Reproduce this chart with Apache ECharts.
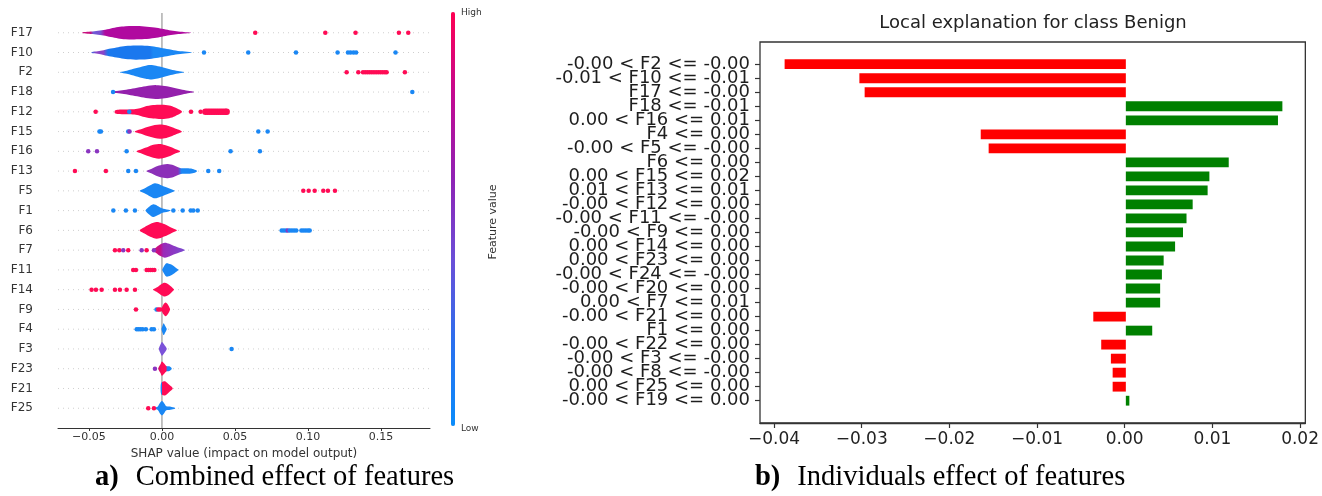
<!DOCTYPE html>
<html><head><meta charset="utf-8">
<script src="https://cdn.jsdelivr.net/npm/echarts@6/dist/echarts.min.js"></script>
<style>html,body{margin:0;padding:0;background:#fff}#c{width:1322px;height:496px}</style>
</head><body><div id="c"></div>
<script>
// ---------- Left: SHAP violin summary ----------
const shapFeatures = ['F17','F10','F2','F18','F12','F15','F16','F13','F5','F1','F6','F7','F11','F14','F9','F4','F3','F23','F21','F25'];
const shapTicks = [-0.05, 0, 0.05, 0.10, 0.15];
const RED = '#ff0b55', BLUE = '#1a87f4', PURPLE = '#8a35c0';
// violin profiles: [shap value, half width in row units]
const violinProfiles = [
  [[-0.0544,0.02],[-0.050,0.05],[-0.045,0.09],[-0.040,0.14],[-0.035,0.22],[-0.030,0.29],[-0.025,0.33],[-0.019,0.34],[-0.012,0.32],[-0.005,0.26],[0.0,0.2],[0.005,0.13],[0.010,0.08],[0.015,0.04],[0.0197,0.01]],
  [[-0.0482,0.02],[-0.044,0.06],[-0.040,0.12],[-0.035,0.2],[-0.030,0.27],[-0.025,0.33],[-0.018,0.36],[-0.010,0.34],[-0.004,0.28],[0.002,0.2],[0.008,0.12],[0.014,0.06],[0.0203,0.01]],
  [[-0.0288,0.01],[-0.024,0.08],[-0.018,0.2],[-0.012,0.32],[-0.008,0.37],[-0.004,0.33],[0.001,0.24],[0.006,0.14],[0.011,0.06],[0.0151,0.01]],
  [[-0.0345,0.03],[-0.031,0.05],[-0.026,0.1],[-0.020,0.18],[-0.014,0.26],[-0.008,0.33],[-0.004,0.35],[0.002,0.31],[0.008,0.22],[0.014,0.12],[0.019,0.05],[0.0219,0.01]],
  [[-0.0322,0.07],[-0.030,0.11],[-0.025,0.12],[-0.020,0.13],[-0.016,0.17],[-0.012,0.26],[-0.006,0.34],[0.0,0.36],[0.005,0.32],[0.009,0.22],[0.0135,0.04]],
  [[-0.0185,0.02],[-0.015,0.1],[-0.010,0.23],[-0.005,0.33],[-0.0014,0.36],[0.003,0.32],[0.007,0.22],[0.011,0.1],[0.0135,0.02]],
  [[-0.0173,0.02],[-0.014,0.11],[-0.009,0.25],[-0.005,0.34],[-0.002,0.37],[0.002,0.32],[0.006,0.22],[0.010,0.09],[0.0123,0.02]],
  [[-0.0105,0.02],[-0.007,0.12],[-0.003,0.26],[0.001,0.34],[0.004,0.36],[0.008,0.3],[0.011,0.2],[0.013,0.15],[0.017,0.14],[0.021,0.11],[0.0238,0.03]],
  [[-0.0151,0.02],[-0.012,0.12],[-0.008,0.28],[-0.0048,0.38],[-0.001,0.3],[0.003,0.18],[0.0065,0.08],[0.0089,0.01]],
  [[-0.0112,0.02],[-0.009,0.18],[-0.006,0.32],[-0.003,0.24],[0.0,0.12],[0.002,0.08],[0.0045,0.04],[0.006,0.01]],
  [[-0.0151,0.03],[-0.012,0.16],[-0.008,0.32],[-0.0037,0.42],[0.0,0.36],[0.004,0.24],[0.007,0.12],[0.0101,0.02]],
  [[-0.006,0.03],[-0.004,0.14],[-0.001,0.3],[0.002,0.38],[0.005,0.32],[0.008,0.22],[0.011,0.14],[0.0135,0.08],[0.0158,0.01]],
  [[0.0002,0.02],[0.0015,0.2],[0.003,0.34],[0.006,0.28],[0.009,0.14],[0.0112,0.02]],
  [[-0.006,0.02],[-0.003,0.14],[0.0,0.3],[0.002,0.35],[0.005,0.24],[0.0082,0.02]],
  [[-0.0003,0.04],[0.001,0.25],[0.0025,0.35],[0.004,0.25],[0.0055,0.03]],
  [[-0.0003,0.03],[0.0005,0.2],[0.0012,0.3],[0.002,0.2],[0.0032,0.03]],
  [[-0.0021,0.03],[-0.001,0.22],[0.0,0.35],[0.0015,0.22],[0.0032,0.03]],
  [[-0.0025,0.03],[-0.001,0.22],[0.0,0.36],[0.0015,0.26],[0.003,0.14],[0.005,0.12],[0.0066,0.03]],
  [[-0.0009,0.15],[-0.0005,0.3],[0.0,0.32],[0.002,0.36],[0.004,0.25],[0.006,0.12],[0.0073,0.03]],
  [[-0.005,0.03],[-0.003,0.08],[-0.0015,0.25],[0.0,0.36],[0.0015,0.25],[0.003,0.1],[0.006,0.08],[0.0089,0.03]]
];
// colour stops along each violin: [shap value, colour]
const violinColors = [
  [[-0.0544,'#c8107f'],[-0.049,'#c8107f'],[-0.047,'#6f5ad6'],[-0.042,'#7a4fd0'],[-0.039,'#b0099f'],[0.0197,'#b0099f']],
  [[-0.0482,'#4068e0'],[-0.045,'#8a45c8'],[-0.040,'#8a45c8'],[-0.037,'#1a78ee'],[-0.008,'#1a78ee'],[-0.006,BLUE],[0.0203,BLUE]],
  [[0,BLUE]],
  [[-0.0345,'#5a5ae0'],[-0.032,'#9420ac'],[0.0219,'#9420ac']],
  [[0,RED]],
  [[0,RED]],
  [[0,RED]],
  [[-0.0105,'#8c30b8'],[0.011,'#8c30b8'],[0.0135,BLUE],[0.0238,BLUE]],
  [[0,BLUE]],
  [[0,BLUE]],
  [[0,RED]],
  [[-0.006,'#d6106e'],[-0.001,'#c0108c'],[0.001,'#9a2ab8'],[0.0158,'#7a4ad0']],
  [[0,BLUE]],
  [[0,RED]],
  [[0,RED]],
  [[0,BLUE]],
  [[0,'#7b52d9']],
  [[-0.0025,'#d0106e'],[0.0,RED],[0.0028,RED],[0.0036,BLUE],[0.0066,BLUE]],
  [[-0.0009,BLUE],[-0.0003,BLUE],[0.0,RED],[0.0073,RED]],
  [[0,BLUE]]
];
// outlier dots: [shap value, row index, colour key]
const shapDots = [
  [0.0639,0,'r'],[0.1119,0,'r'],[0.1326,0,'r'],[0.1623,0,'r'],[0.1687,0,'r'],
  [0.0288,1,'b'],[0.0591,1,'b'],[0.0918,1,'b'],[0.1203,1,'b'],[0.1274,1,'b'],[0.1292,1,'b'],[0.1312,1,'b'],[0.1330,1,'b'],[0.160,1,'b'],
  [0.1265,2,'r'],[0.1345,2,'r'],[0.1377,2,'r'],[0.1392,2,'r'],[0.1407,2,'r'],[0.1422,2,'r'],[0.1437,2,'r'],[0.1452,2,'r'],[0.1467,2,'r'],[0.1482,2,'r'],[0.1497,2,'r'],[0.1512,2,'r'],[0.1527,2,'r'],[0.1539,2,'r'],[0.1664,2,'r'],
  [-0.0335,3,'b'],[0.1715,3,'b'],
  [-0.0454,4,'r'],[-0.0224,4,'b'],[0.0199,4,'r'],[0.0265,4,'r'],[0.0298,4,'R'],[0.0313,4,'R'],[0.0328,4,'R'],[0.0343,4,'R'],[0.0358,4,'R'],[0.0373,4,'R'],[0.0388,4,'R'],[0.0403,4,'R'],[0.0418,4,'R'],[0.0433,4,'R'],[0.0443,4,'R'],
  [-0.0428,5,'b'],[-0.0418,5,'b'],[-0.0231,5,'b'],[-0.0222,5,'p'],[0.066,5,'b'],[0.0724,5,'b'],
  [-0.0505,6,'p'],[-0.0445,6,'p'],[-0.0242,6,'b'],[0.047,6,'b'],[0.0671,6,'b'],
  [-0.0596,7,'r'],[-0.0384,7,'r'],[-0.0231,7,'b'],[-0.0178,7,'b'],[0.0317,7,'b'],[0.0392,7,'b'],
  [0.0968,8,'r'],[0.1005,8,'r'],[0.1046,8,'r'],[0.1105,8,'r'],[0.1137,8,'r'],[0.1185,8,'r'],
  [-0.0333,9,'b'],[-0.0247,9,'b'],[-0.0185,9,'b'],[0.0078,9,'b'],[0.0142,9,'b'],[0.0197,9,'b'],[0.0215,9,'b'],[0.0245,9,'b'],
  [0.082,10,'b'],[0.0835,10,'b'],[0.0850,10,'b'],[0.0862,10,'p'],[0.0875,10,'b'],[0.089,10,'b'],[0.0905,10,'b'],[0.092,10,'b'],[0.0955,10,'b'],[0.097,10,'b'],[0.0985,10,'b'],[0.1000,10,'b'],[0.1012,10,'b'],
  [-0.0322,11,'r'],[-0.0292,11,'r'],[-0.0265,11,'p'],[-0.0231,11,'r'],[-0.0139,11,'p'],[-0.0105,11,'r'],[-0.0055,11,'p'],
  [-0.0197,12,'r'],[-0.0178,12,'r'],[-0.0105,12,'r'],[-0.0092,12,'r'],[-0.0079,12,'r'],[-0.0066,12,'r'],[-0.0052,12,'r'],
  [-0.0482,13,'r'],[-0.0452,13,'r'],[-0.0413,13,'r'],[-0.0322,13,'r'],[-0.0288,13,'r'],[-0.0242,13,'r'],[-0.0185,13,'r'],
  [-0.0178,14,'r'],[-0.0037,14,'b'],[-0.0025,14,'r'],[-0.0012,14,'r'],
  [-0.0173,15,'b'],[-0.0160,15,'b'],[-0.0147,15,'b'],[-0.0132,15,'b'],[-0.0110,15,'b'],[-0.0071,15,'b'],[-0.0055,15,'b'],
  [0.0477,16,'b'],
  [-0.0048,17,'p'],
  [-0.0094,19,'r'],[-0.0055,19,'r']
];
const dotColorKey = {r: RED, R: RED, b: BLUE, p: PURPLE};
const colorbarStops = ['#0a8cfb','#2a70ee','#6a4fd8','#9022b4','#c30a90','#ff0052'];

// ---------- Right: LIME local explanation ----------
const limeLabels = ['-0.00 < F2 <= -0.00','-0.01 < F10 <= -0.01','F17 <= -0.00','F18 <= -0.01','0.00 < F16 <= 0.01','F4 <= 0.00','-0.00 < F5 <= -0.00','F6 <= 0.00','0.00 < F15 <= 0.02','0.01 < F13 <= 0.01','-0.00 < F12 <= 0.00','-0.00 < F11 <= -0.00','-0.00 < F9 <= 0.00','0.00 < F14 <= 0.00','0.00 < F23 <= 0.00','-0.00 < F24 <= -0.00','-0.00 < F20 <= 0.00','0.00 < F7 <= 0.01','-0.00 < F21 <= 0.00','F1 <= 0.00','-0.00 < F22 <= 0.00','-0.00 < F3 <= -0.00','-0.00 < F8 <= -0.00','0.00 < F25 <= 0.00','-0.00 < F19 <= 0.00'];
const limeValues = [-0.0388,-0.0303,-0.0297,0.0178,0.0173,-0.0165,-0.0156,0.0117,0.0095,0.0093,0.0076,0.0069,0.0065,0.0056,0.0043,0.0041,0.0039,0.0039,-0.0037,0.0030,-0.0028,-0.0017,-0.0015,-0.0015,0.0004];
const limeTicks = [-0.04,-0.03,-0.02,-0.01,0,0.01,0.02];

const FONT = 'DejaVu Sans';
const fmt = v => (v < 0 ? '\u2212' : '') + Math.abs(v).toFixed(2);

function renderViolin(params, api) {
  const i = params.dataIndex;
  const prof = violinProfiles[i];
  const top = prof.map(p => api.coord([p[0], i - p[1]]));
  const bot = prof.slice().reverse().map(p => api.coord([p[0], i + p[1]]));
  const stops = violinColors[i];
  let fill;
  if (stops.length === 1) fill = stops[0][1];
  else {
    const x0 = api.coord([stops[0][0], i])[0];
    const x1 = api.coord([stops[stops.length - 1][0], i])[0];
    fill = {type: 'linear', x: x0, y: 0, x2: x1, y2: 0, global: true,
      colorStops: stops.map(s => ({offset: Math.min(1, Math.max(0, (api.coord([s[0], i])[0] - x0) / (x1 - x0))), color: s[1]}))};
  }
  return {type: 'polygon', shape: {points: top.concat(bot), smooth: 0.3}, style: {fill: fill}};
}

// dotted row guides and the zero line, drawn from the axes
function renderGuide(params, api) {
  const cs = params.coordSys;
  const i = params.dataIndex;
  if (i < shapFeatures.length) {
    const y = api.coord([0, i])[1];
    return {type: 'line', shape: {x1: cs.x, y1: y, x2: cs.x + cs.width, y2: y},
      style: {stroke: '#cfcfcf', lineWidth: 1, lineDash: [1, 4]}};
  }
  const x = api.coord([0, 0])[0];
  return {type: 'line', shape: {x1: x, y1: cs.y, x2: x, y2: cs.y + cs.height},
    style: {stroke: '#999999', lineWidth: 1.2}};
}

const capStyle = (sz) => ({fontFamily: 'Liberation Serif', fontSize: sz, fontWeight: 'normal', color: '#000',
  rich: {b: {fontFamily: 'Liberation Serif', fontSize: sz, fontWeight: 'bold', color: '#000'},
         g: {width: 17, fontSize: sz}}});

const chart = echarts.init(document.getElementById('c'), null, {renderer: 'canvas'});
chart.setOption({
  animation: false,
  backgroundColor: '#fff',
  title: [
    {text: 'Local explanation for class Benign', left: 1033, top: 14, textAlign: 'center', padding: 0,
      textStyle: {fontFamily: FONT, fontSize: 18, fontWeight: 'normal', color: '#222'}},
    {text: '{b|a)}{g| }Combined effect of features', left: 95, top: 463, padding: 0, textStyle: capStyle(28.5)},
    {text: '{b|b)}{g| }Individuals effect of features', left: 755, top: 463, padding: 0, textStyle: capStyle(28.5)}
  ],
  grid: [
    {left: 58, right: 892, top: 13, bottom: 68},
    {left: 760, right: 15, top: 42, bottom: 73, show: true, borderColor: '#333', borderWidth: 1.3, backgroundColor: 'transparent'},
    {left: 760, right: 15, top: 57.2, bottom: 88.3}
  ],
  xAxis: [
    {type: 'value', gridIndex: 0, min: -0.0712, max: 0.1836, position: 'bottom',
      axisLine: {show: true, onZero: false, lineStyle: {color: '#333', width: 1}},
      axisTick: {show: true, length: 3, customValues: shapTicks, lineStyle: {color: '#333'}},
      axisLabel: {customValues: shapTicks, formatter: fmt, fontFamily: FONT, fontSize: 11, color: '#333', margin: 4},
      splitLine: {show: false},
      name: 'SHAP value (impact on model output)', nameLocation: 'middle', nameGap: 16,
      nameTextStyle: {fontFamily: FONT, fontSize: 12, color: '#333'}},
    {type: 'value', gridIndex: 1, min: -0.0416, max: 0.0206, position: 'bottom',
      axisLine: {show: true, onZero: false, lineStyle: {color: '#333', width: 1.3}},
      axisTick: {show: true, length: 5, customValues: limeTicks, lineStyle: {color: '#333', width: 1.2}},
      axisLabel: {customValues: limeTicks, formatter: fmt, fontFamily: FONT, fontSize: 17, color: '#222', margin: 8},
      splitLine: {show: false}},
    {type: 'value', gridIndex: 2, min: -0.0416, max: 0.0206, show: false}
  ],
  yAxis: [
    {type: 'value', gridIndex: 0, inverse: true, min: -1, max: 20, interval: 1,
      axisLine: {show: false, onZero: false}, axisTick: {show: false}, splitLine: {show: false},
      axisLabel: {formatter: v => (v >= 0 && v < shapFeatures.length ? shapFeatures[v] : ''),
        fontFamily: FONT, fontSize: 12, color: '#333', margin: 25}},
    {type: 'value', gridIndex: 1, min: 0, max: 1, show: false},
    {type: 'category', gridIndex: 2, inverse: true, data: limeLabels,
      axisLine: {show: false, onZero: false},
      axisTick: {show: true, length: 5, alignWithLabel: true, lineStyle: {color: '#333', width: 1.2}},
      axisLabel: {fontFamily: FONT, fontSize: 18, color: '#1e1e1e', margin: 10, interval: 0},
      splitLine: {show: false}}
  ],
  visualMap: {
    type: 'continuous', min: 0, max: 1, seriesIndex: 3, orient: 'vertical',
    left: 451, top: 12, itemWidth: 4, itemHeight: 414, padding: 0, calculable: false,
    inRange: {color: colorbarStops}, textStyle: {color: '#333'}
  },
  graphic: [
    {type: 'text', x: 461, y: 13, style: {text: 'High', font: '9px "DejaVu Sans"', fill: '#333', verticalAlign: 'middle'}},
    {type: 'text', x: 461, y: 429, style: {text: 'Low', font: '9px "DejaVu Sans"', fill: '#333', verticalAlign: 'middle'}},
    {type: 'text', x: 493, y: 222, rotation: Math.PI / 2, style: {text: 'Feature value', font: '11px "DejaVu Sans"', fill: '#333', align: 'center', verticalAlign: 'middle'}}
  ],
  series: [
    {type: 'custom', xAxisIndex: 0, yAxisIndex: 0, z: 1, renderItem: renderGuide, silent: true,
      data: shapFeatures.map((f, i) => [0, i]).concat([[0, 0]]), encode: {x: 0, y: 1}},
    {type: 'custom', xAxisIndex: 0, yAxisIndex: 0, z: 2, renderItem: renderViolin,
      data: shapFeatures.map((f, i) => [0, i]), encode: {x: 0, y: 1}, silent: true},
    {type: 'scatter', xAxisIndex: 0, yAxisIndex: 0, z: 3, silent: true,
      symbolSize: d => (d[2] === 'R' ? 6.5 : 4.5),
      itemStyle: {color: p => dotColorKey[p.data[2]], opacity: 1},
      data: shapDots},
    {type: 'scatter', xAxisIndex: 0, yAxisIndex: 0, data: [], silent: true},
    {type: 'bar', xAxisIndex: 2, yAxisIndex: 2, barWidth: '70%', silent: true,
      data: limeValues.map(v => ({value: v, itemStyle: {color: v < 0 ? '#ff0000' : '#008000'}}))}
  ]
});
</script></body></html>
